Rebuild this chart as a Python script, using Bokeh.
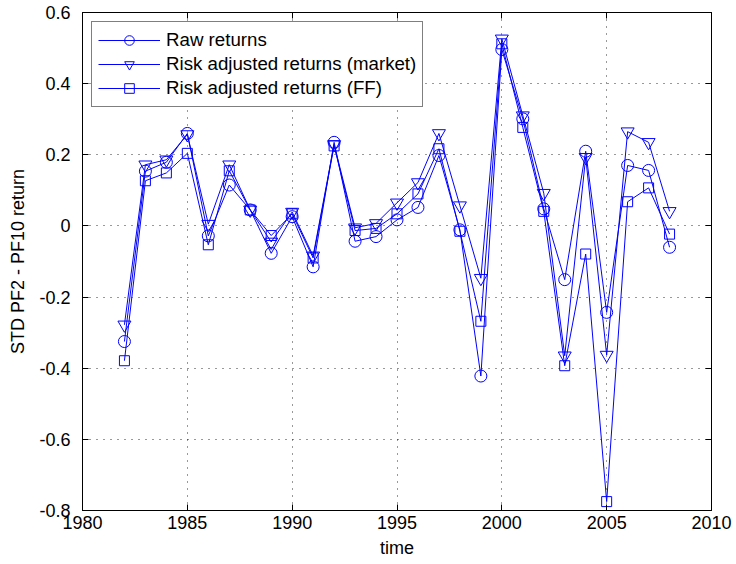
from bokeh.plotting import figure
from bokeh.models import Range1d, FixedTicker, LinearAxis, Legend, LegendItem, CustomLabelingPolicy
from bokeh.embed import file_html
from bokeh.resources import INLINE

years = list(range(1982, 2009))
raw_returns = [-0.325, 0.154, 0.179, 0.260, -0.028, 0.115, 0.045, -0.077, 0.026, -0.115,
               0.235, -0.043, -0.030, 0.017, 0.052, 0.198, -0.011, -0.422, 0.496, 0.301,
               0.048, -0.151, 0.210, -0.243, 0.170, 0.156, -0.060]
market_adj = [-0.278, 0.172, 0.186, 0.257, 0.005, 0.172, 0.045, -0.045, 0.039, -0.084,
              0.229, -0.005, 0.007, 0.065, 0.122, 0.260, 0.057, -0.147, 0.526, 0.310,
              0.092, -0.365, 0.193, -0.363, 0.265, 0.235, 0.041]
ff_adj = [-0.379, 0.127, 0.149, 0.204, -0.053, 0.155, 0.045, -0.027, 0.034, -0.090,
          0.225, -0.013, -0.007, 0.034, 0.090, 0.217, -0.015, -0.268, 0.512, 0.277,
          0.041, -0.393, -0.079, -0.775, 0.068, 0.107, -0.023]
labels = ["Raw returns", "Risk adjusted returns (market)", "Risk adjusted returns (FF)"]
x_ticks = [1980, 1985, 1990, 1995, 2000, 2005, 2010]
y_ticks = [-0.8, -0.6, -0.4, -0.2, 0, 0.2, 0.4, 0.6]
y_tick_labels = ["-0.8", "-0.6", "-0.4", "-0.2", "0", "0.2", "0.4", "0.6"]

FONT = "Liberation Sans"
FS = "18px"
BLUE = "#0000ff"

p = figure(width=736, height=564, output_backend="svg", toolbar_location=None,
           x_range=Range1d(1980, 2010), y_range=Range1d(-0.8, 0.6),
           min_border_left=82, min_border_right=24, min_border_top=12, min_border_bottom=54)
p.background_fill_color = "white"
p.border_fill_color = "white"
p.outline_line_color = "black"
p.outline_line_width = 1

ytick_over = {v: s for v, s in zip(y_ticks, y_tick_labels)}
ytick_over.update({float(v): s for v, s in zip(y_ticks, y_tick_labels)})

for ax in [p.xaxis[0], p.yaxis[0]]:
    ax.major_tick_in = 6
    ax.major_tick_out = 0
    ax.minor_tick_line_color = None
    ax.axis_line_color = "black"
    ax.major_tick_line_color = "black"
    ax.major_label_text_font = FONT
    ax.major_label_text_font_size = FS
    ax.major_label_text_color = "black"
    ax.axis_label_text_font = FONT
    ax.axis_label_text_font_size = FS
    ax.axis_label_text_font_style = "normal"
    ax.axis_label_text_color = "black"

p.xaxis[0].ticker = FixedTicker(ticks=x_ticks)
p.yaxis[0].ticker = FixedTicker(ticks=y_ticks)
p.yaxis[0].major_label_overrides = ytick_over
p.xaxis[0].axis_label = "time"
p.yaxis[0].axis_label = "STD PF2 - PF10 return"
p.xaxis[0].major_label_standoff = 5
p.xaxis[0].axis_label_standoff = 6
p.yaxis[0].major_label_standoff = 12
p.yaxis[0].axis_label_standoff = 8

no_labels = "for (const i of indices) { if (i < 0) { yield i } }"
for side, ticks in [("right", y_ticks), ("above", x_ticks)]:
    ax = LinearAxis(ticker=FixedTicker(ticks=ticks), major_tick_in=6, major_tick_out=0,
                    minor_tick_line_color=None,
                    major_label_policy=CustomLabelingPolicy(code=no_labels),
                    major_label_standoff=0, axis_line_color="black",
                    major_tick_line_color="black")
    p.add_layout(ax, side)

for g in [p.xgrid[0], p.ygrid[0]]:
    g.grid_line_color = "black"
    g.grid_line_dash = "1 6"
    g.grid_line_width = 1
    g.grid_line_alpha = 0.8
p.xgrid[0].ticker = FixedTicker(ticks=x_ticks)
p.ygrid[0].ticker = FixedTicker(ticks=y_ticks)

items = []
series = [(raw_returns, "circle", 12), (market_adj, "inverted_triangle", 13), (ff_adj, "square", 10)]
for (vals, marker, size), lab in zip(series, labels):
    ln = p.line(years, vals, line_color=BLUE, line_width=1)
    sc = p.scatter(years, vals, marker=marker, size=size, line_color=BLUE,
                   fill_color=None, line_width=1)
    items.append(LegendItem(label=lab, renderers=[ln, sc]))

legend = Legend(items=items, location="top_left")
legend.margin = 9
legend.padding = 6
legend.spacing = 0
legend.label_height = 24
legend.glyph_height = 24
legend.glyph_width = 62
legend.label_standoff = 6
legend.label_text_font = FONT
legend.label_text_font_size = "18.7px"
legend.label_text_color = "black"
legend.border_line_color = "black"
legend.border_line_width = 1
legend.background_fill_color = "white"
legend.background_fill_alpha = 1
p.add_layout(legend)

open("out.html", "w").write(file_html(p, INLINE))
